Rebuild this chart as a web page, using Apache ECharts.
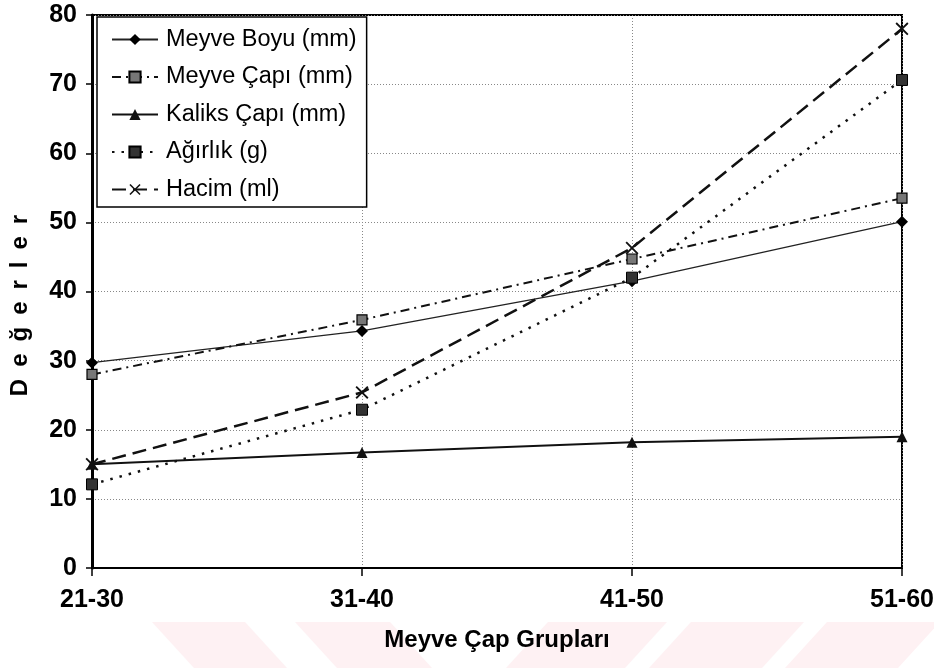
<!DOCTYPE html>
<html>
<head>
<meta charset="utf-8">
<script src="https://cdn.jsdelivr.net/npm/echarts@6/dist/echarts.min.js"></script>
<style>
  html, body { margin: 0; padding: 0; background: #fff; }
  #chart { width: 934px; height: 668px; }
</style>
</head>
<body>
<div id="chart"></div>
<script>
// Fruit diameter groups and measured values per group
const categories = ['21-30', '31-40', '41-50', '51-60'];
const meyveBoyu = [29.7, 34.3, 41.5, 50.1];
const meyveCapi = [28.0, 35.9, 44.7, 53.5];
const kaliksCapi = [15.0, 16.7, 18.2, 19.0];
const agirlik = [12.1, 22.9, 42.0, 70.6];
const hacim = [15.0, 25.4, 46.3, 78.0];
const yTicks = { min: 0, max: 80, interval: 10 };

const FONT = '"Liberation Sans", Arial, sans-serif';
const crossPath = 'path://M1,0 L5,4 L9,0 L10,1 L6,5 L10,9 L9,10 L5,6 L1,10 L0,9 L4,5 L0,1 Z';
// y-axis title, letter-spaced with en spaces
const yTitle = 'Değerler'.split('').join('\u2002');

// pale diagonal stripes along the bottom edge of the page
function stripe(x0, x1, slant) {
  const top = 622, bottom = 668;
  return {
    type: 'polygon', z: -10, silent: true,
    shape: { points: [[x0, top], [x1, top], [x1 + slant, bottom], [x0 + slant, bottom]] },
    style: { fill: '#fef1f3' }
  };
}

const chart = echarts.init(document.getElementById('chart'));
chart.setOption({
  backgroundColor: '#fff',
  animation: false,
  textStyle: { fontFamily: FONT },
  graphic: [
    stripe(152, 245, 42), stripe(295, 390, 42),
    stripe(548, 667, -42), stripe(691, 804, -42), stripe(827, 940, -42)
  ],
  grid: {
    left: 92, right: 32, top: 15, bottom: 100,
    outerBoundsMode: 'none', containLabel: false,
    show: true, borderColor: '#000', borderWidth: 2, backgroundColor: 'transparent'
  },
  legend: {
    orient: 'vertical', left: 97, top: 17,
    padding: [10, 10, 5, 14],
    backgroundColor: '#fff', borderColor: '#000', borderWidth: 1.5,
    itemWidth: 46, itemHeight: 14, itemGap: 12.5,
    textStyle: { fontFamily: FONT, fontSize: 23.5, color: '#000', lineHeight: 25, padding: [0, 0, 0, 3] },
    data: ['Meyve Boyu (mm)', 'Meyve Çapı (mm)', 'Kaliks Çapı (mm)', 'Ağırlık (g)', 'Hacim (ml)']
  },
  xAxis: {
    type: 'category', data: categories, boundaryGap: false,
    name: 'Meyve Çap Grupları', nameLocation: 'middle', nameGap: 60,
    nameTextStyle: { fontFamily: FONT, fontSize: 24, fontWeight: 'bold', color: '#000' },
    axisLine: { lineStyle: { color: '#000', width: 2 } },
    axisTick: { show: true, length: 8, lineStyle: { color: '#000', width: 1.5 } },
    axisLabel: { fontFamily: FONT, fontSize: 25, fontWeight: 'bold', color: '#000', margin: 20 },
    splitLine: { show: true, lineStyle: { color: '#888', type: [1, 2], width: 1 } }
  },
  yAxis: {
    type: 'value', min: yTicks.min, max: yTicks.max, interval: yTicks.interval,
    name: yTitle, nameLocation: 'middle', nameGap: 60, nameRotate: 90,
    nameTextStyle: { fontFamily: FONT, fontSize: 24, fontWeight: 'bold', color: '#000', padding: [0, 28, 0, 0] },
    axisLine: { show: true, lineStyle: { color: '#000', width: 3 } },
    axisTick: { show: true, length: 6, lineStyle: { color: '#000', width: 1.5 } },
    axisLabel: { fontFamily: FONT, fontSize: 25, fontWeight: 'bold', color: '#000', margin: 15 },
    splitLine: { show: true, lineStyle: { color: '#888', type: [1, 2], width: 1 } }
  },
  series: [
    {
      name: 'Meyve Boyu (mm)', type: 'line', data: meyveBoyu,
      symbol: 'diamond', symbolSize: 12,
      itemStyle: { color: '#000' },
      lineStyle: { color: '#222', width: 1.3, type: 'solid' }
    },
    {
      name: 'Meyve Çapı (mm)', type: 'line', data: meyveCapi,
      symbol: 'rect', symbolSize: 10,
      itemStyle: { color: '#777', borderColor: '#000', borderWidth: 1.2 },
      lineStyle: { color: '#111', width: 2, type: [9, 5, 2, 5] }
    },
    {
      name: 'Kaliks Çapı (mm)', type: 'line', data: kaliksCapi,
      symbol: 'triangle', symbolSize: 11,
      itemStyle: { color: '#111' },
      lineStyle: { color: '#111', width: 2, type: 'solid' }
    },
    {
      name: 'Ağırlık (g)', type: 'line', data: agirlik,
      symbol: 'rect', symbolSize: 11,
      itemStyle: { color: '#333', borderColor: '#000', borderWidth: 1 },
      lineStyle: { color: '#111', width: 2.5, type: [2.5, 7] }
    },
    {
      name: 'Hacim (ml)', type: 'line', data: hacim,
      symbol: crossPath, symbolSize: 13,
      itemStyle: { color: '#111' },
      lineStyle: { color: '#111', width: 2.5, type: [14, 7] }
    }
  ]
});
</script>
</body>
</html>
